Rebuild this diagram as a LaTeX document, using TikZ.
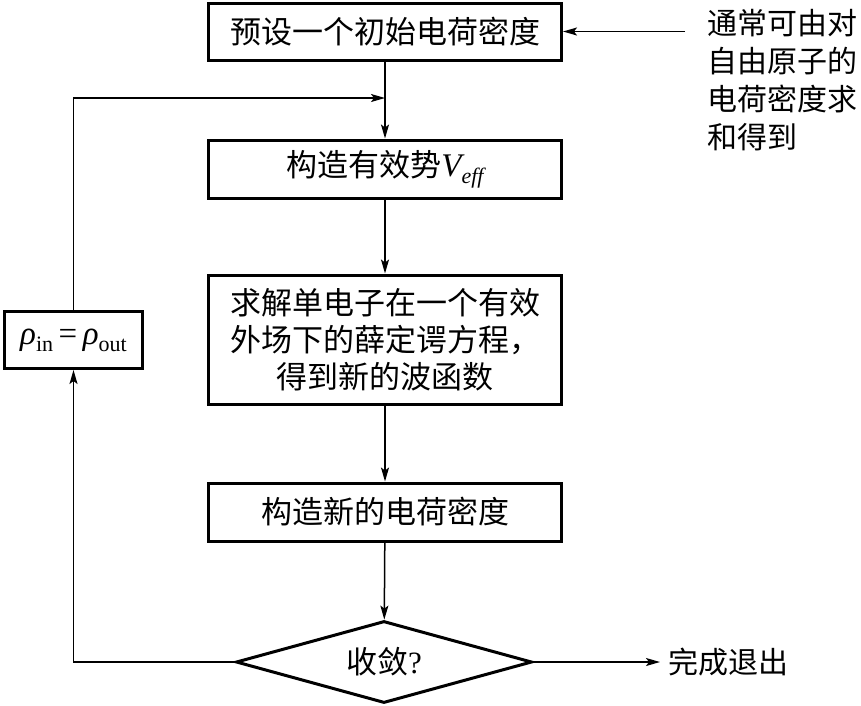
\documentclass[tikz,border=0pt]{standalone}
\usepackage{fontspec}
\setmainfont{Liberation Serif}
\newfontfamily\cjk{Noto Sans CJK SC}
\newfontfamily\lat{Liberation Serif}
\newcommand\mysub[1]{\raisebox{-7pt}{\fontsize{22}{22}\selectfont #1}}
\usetikzlibrary{shapes.geometric,arrows.meta}
\begin{document}
\begin{tikzpicture}[x=1pt,y=-1pt,
  box/.style={draw,line width=3pt,minimum width=353pt,inner sep=0pt,align=center,
    font=\cjk\fontsize{31}{37}\selectfont},
  cond/.style={draw,diamond,line width=3pt,aspect=3.6,inner sep=0pt,
    minimum width=296pt,minimum height=82pt,font=\cjk\fontsize{31}{37}\selectfont},
  lbox/.style={draw,line width=3pt,minimum width=138pt,minimum height=57pt,inner sep=0pt,
    font=\lat\fontsize{33}{38}\selectfont},
  note/.style={inner sep=0pt,align=left,font=\cjk\fontsize{30}{38}\selectfont},
  conn/.style={line width=1.5pt,-{Stealth[length=14pt,width=8pt,inset=3pt]}}]
\useasboundingbox (0,0) rectangle (861,705);
\fill[white] (0,0) rectangle (861,705);

\node[box,minimum height=57pt] (b1) at (385,31.5) {预设一个初始电荷密度};
\node[box,minimum height=58pt] (b2) at (385,169) {构造有效势{\lat\fontsize{33}{37}\selectfont\itshape V\mysub{eff}}};
\node[box,minimum height=129pt] (b3) at (385,339.5) {求解单电子在一个有效\\外场下的薛定谔方程，\\得到新的波函数};
\node[box,minimum height=58pt] (b4) at (385,512) {构造新的电荷密度};
\node[cond] (d) at (384,662) {收敛{\lat ?}};
\node[lbox] (lb) at (73.5,340) {{\itshape ρ}\mysub{in}\,=\,{\itshape ρ}\mysub{out}};
\node[note,anchor=west] (nt) at (707,80.5) {通常可由对\\自由原子的\\电荷密度求\\和得到};
\node[note,anchor=west,inner sep=8pt] (ex) at (660,662) {完成退出};

\coordinate (ns) at (685,31.5);
\coordinate (m) at (385,98);

\draw[conn] (ns) -- (b1.east);
\draw[conn] (b1) -- (b2);
\draw[conn] (b2) -- (b3);
\draw[conn] (b3) -- (b4);
\draw[conn] (b4) -- (d);
\draw[conn] (d.west) -| (lb.south);
\draw[conn] (lb.north) |- (m);
\draw[conn] (d.east) -- (ex.west);
\end{tikzpicture}
\end{document}
